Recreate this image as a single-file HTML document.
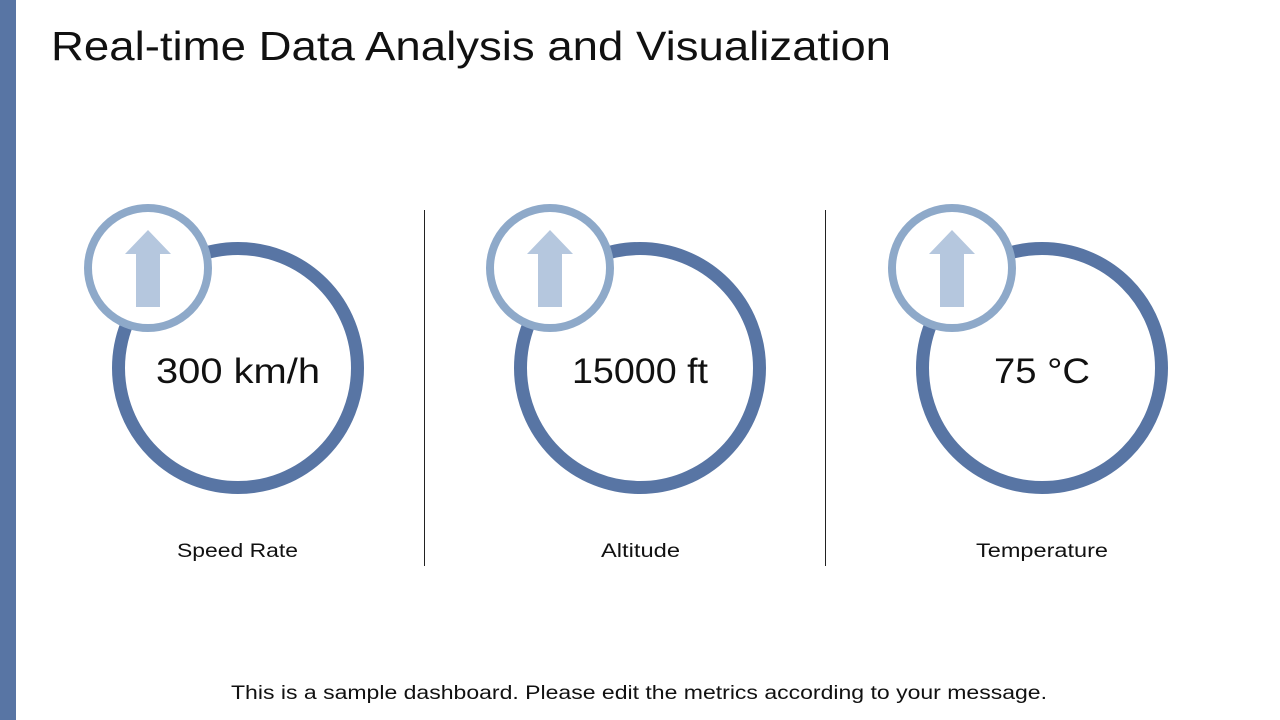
<!DOCTYPE html>
<html><head><meta charset="utf-8"><style>
html,body{margin:0;padding:0;background:#fff;}
body{width:1280px;height:720px;position:relative;overflow:hidden;font-family:"Liberation Sans",sans-serif;}
</style></head><body>
<svg width="1280" height="720" xmlns="http://www.w3.org/2000/svg" style="position:absolute;left:0;top:0">
<rect x="0" y="0" width="16" height="720" fill="#5875a4"/>
<text x="51" y="60" font-family="Liberation Sans, sans-serif" font-size="41" fill="#111" textLength="840" lengthAdjust="spacingAndGlyphs">Real-time Data Analysis and Visualization</text>
<line x1="424.5" y1="210" x2="424.5" y2="566" stroke="#222" stroke-width="1"/>
<line x1="825.5" y1="210" x2="825.5" y2="566" stroke="#222" stroke-width="1"/>
<g id="m">
<circle cx="238" cy="368" r="119.5" fill="none" stroke="#5875a4" stroke-width="13"/>
<circle cx="148" cy="268" r="60" fill="#fff" stroke="#8ea9c9" stroke-width="8"/>
<polygon points="148,230 171,254 160,254 160,307 136,307 136,254 125,254" fill="#b5c7de"/>
</g>
<use href="#m" x="402"/>
<use href="#m" x="804"/>
<g font-family="Liberation Sans, sans-serif" fill="#111" lengthAdjust="spacingAndGlyphs">
<text x="156" y="383" font-size="35" textLength="164" lengthAdjust="spacingAndGlyphs">300 km/h</text>
<text x="572" y="383" font-size="35" textLength="136" lengthAdjust="spacingAndGlyphs">15000 ft</text>
<text x="994" y="383" font-size="35" textLength="96" lengthAdjust="spacingAndGlyphs">75 °C</text>
<text x="177" y="557" font-size="19" textLength="121" lengthAdjust="spacingAndGlyphs">Speed Rate</text>
<text x="601" y="557" font-size="19" textLength="79" lengthAdjust="spacingAndGlyphs">Altitude</text>
<text x="976" y="557" font-size="19" textLength="132" lengthAdjust="spacingAndGlyphs">Temperature</text>
<text x="231" y="699" font-size="19" textLength="816" lengthAdjust="spacingAndGlyphs">This is a sample dashboard. Please edit the metrics according to your message.</text>
</g>
</svg>
</body></html>
